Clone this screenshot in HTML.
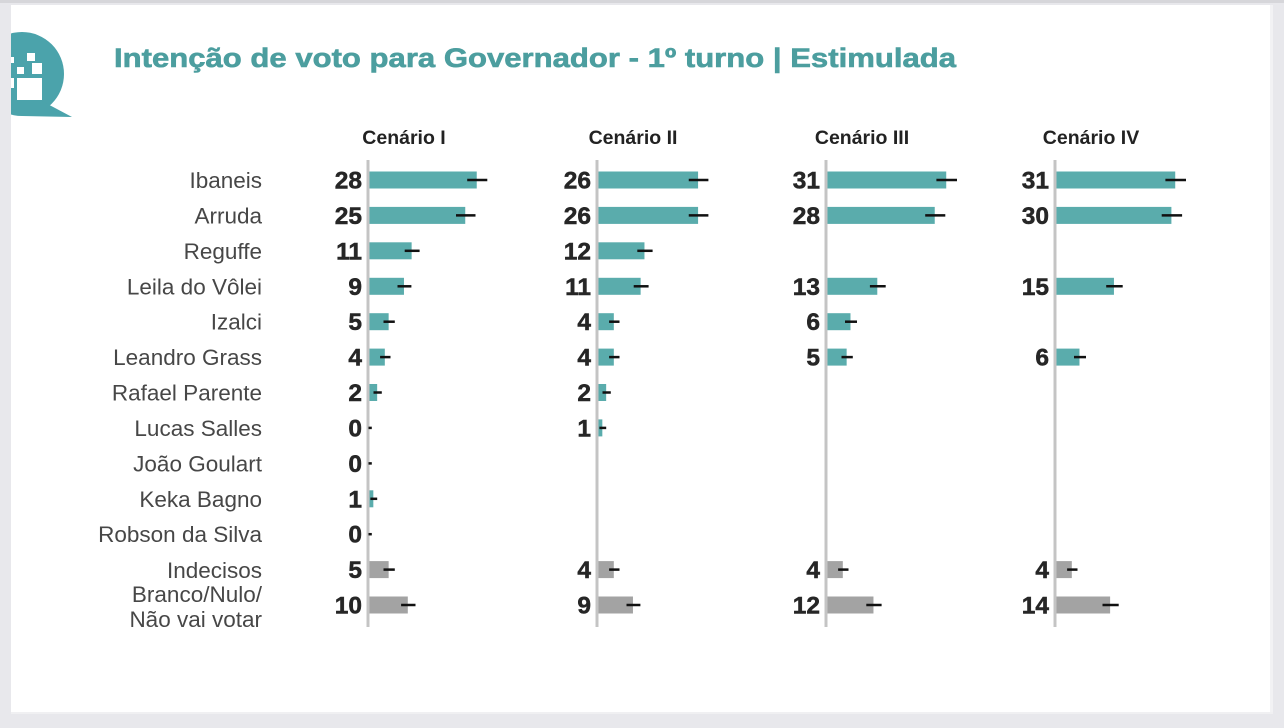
<!DOCTYPE html>
<html>
<head>
<meta charset="utf-8">
<style>
html,body{margin:0;padding:0;background:#e8e8ec;}
svg{display:block;}
</style>
</head>
<body>
<svg width="1284" height="728" viewBox="0 0 1284 728" xmlns="http://www.w3.org/2000/svg" font-family="'Liberation Sans', Arial, sans-serif">
  <rect x="0" y="0" width="1284" height="728" fill="#e8e8ec"/>
  <rect x="0" y="0" width="1284" height="3" fill="#d6d6da"/>
  <rect x="11" y="5" width="1259" height="707" fill="#ffffff"/>
  <rect x="1270" y="5" width="3" height="707" fill="#f2f2f4"/>
  <rect x="11" y="712" width="1262" height="2" fill="#f0f0f2"/>

  <!-- logo -->
  <defs><clipPath id="lc"><rect x="11" y="0" width="100" height="140"/></clipPath></defs>
  <g clip-path="url(#lc)" fill="#4ba3ab">
    <circle cx="22" cy="74" r="42"/>
    <polygon points="40,100 72,117 22,116"/>
  </g>
  <g fill="#ffffff">
    <rect x="27" y="53" width="8" height="8"/>
    <rect x="32" y="63" width="10" height="11"/>
    <rect x="17" y="67" width="7" height="7"/>
    <rect x="17" y="78" width="25" height="22"/>
    <rect x="11" y="57" width="3" height="6"/>
    <rect x="11" y="78" width="3" height="10"/>
  </g>

  <!-- title -->
  <text x="114" y="67" font-size="27" font-weight="bold" fill="#4c9e9f" stroke="#4c9e9f" stroke-width="0.6" textLength="842" lengthAdjust="spacingAndGlyphs">Intenção de voto para Governador - 1º turno | Estimulada</text>

  <!-- headers -->
  <g font-size="19.5" font-weight="bold" fill="#222" text-anchor="middle">
    <text x="404" y="144">Cenário I</text>
    <text x="633" y="144">Cenário II</text>
    <text x="862" y="144">Cenário III</text>
    <text x="1091" y="144">Cenário IV</text>
  </g>

  <!-- row labels -->
  <g font-size="22.5" fill="#474747" text-anchor="end">
    <text x="262" y="188">Ibaneis</text>
    <text x="262" y="223.4">Arruda</text>
    <text x="262" y="258.8">Reguffe</text>
    <text x="262" y="294.3">Leila do Vôlei</text>
    <text x="262" y="329.7">Izalci</text>
    <text x="262" y="365.1">Leandro Grass</text>
    <text x="262" y="400.5">Rafael Parente</text>
    <text x="262" y="435.9">Lucas Salles</text>
    <text x="262" y="471.4">João Goulart</text>
    <text x="262" y="506.8">Keka Bagno</text>
    <text x="262" y="542.2">Robson da Silva</text>
    <text x="262" y="578">Indecisos</text>
    <text x="262" y="602">Branco/Nulo/</text>
    <text x="262" y="627">Não vai votar</text>
  </g>

  <!-- axes -->
  <g stroke="#c4c4c4" stroke-width="3">
    <line x1="368" y1="160" x2="368" y2="627"/>
    <line x1="597" y1="160" x2="597" y2="627"/>
    <line x1="826" y1="160" x2="826" y2="627"/>
    <line x1="1055" y1="160" x2="1055" y2="627"/>
  </g>

  <!-- bars teal -->
  <g fill="#5aacac">
    <rect x="369.5" y="171.5" width="107.24" height="17"/>
    <rect x="369.5" y="206.9" width="95.75" height="17"/>
    <rect x="369.5" y="242.3" width="42.13" height="17"/>
    <rect x="369.5" y="277.8" width="34.47" height="17"/>
    <rect x="369.5" y="313.2" width="19.15" height="17"/>
    <rect x="369.5" y="348.6" width="15.32" height="17"/>
    <rect x="369.5" y="384.0" width="7.66" height="17"/>
    <rect x="369.5" y="490.3" width="3.83" height="17"/>
    <rect x="598.5" y="171.5" width="99.58" height="17"/>
    <rect x="598.5" y="206.9" width="99.58" height="17"/>
    <rect x="598.5" y="242.3" width="45.96" height="17"/>
    <rect x="598.5" y="277.8" width="42.13" height="17"/>
    <rect x="598.5" y="313.2" width="15.32" height="17"/>
    <rect x="598.5" y="348.6" width="15.32" height="17"/>
    <rect x="598.5" y="384.0" width="7.66" height="17"/>
    <rect x="598.5" y="419.4" width="3.83" height="17"/>
    <rect x="827.5" y="171.5" width="118.73" height="17"/>
    <rect x="827.5" y="206.9" width="107.24" height="17"/>
    <rect x="827.5" y="277.8" width="49.79" height="17"/>
    <rect x="827.5" y="313.2" width="22.98" height="17"/>
    <rect x="827.5" y="348.6" width="19.15" height="17"/>
    <rect x="1056.5" y="171.5" width="118.73" height="17"/>
    <rect x="1056.5" y="206.9" width="114.9" height="17"/>
    <rect x="1056.5" y="277.8" width="57.45" height="17"/>
    <rect x="1056.5" y="348.6" width="22.98" height="17"/>
  </g>

  <!-- bars gray -->
  <g fill="#a3a3a3">
    <rect x="369.5" y="561.1" width="19.15" height="17"/>
    <rect x="369.5" y="596.5" width="38.3" height="17"/>
    <rect x="598.5" y="561.1" width="15.32" height="17"/>
    <rect x="598.5" y="596.5" width="34.47" height="17"/>
    <rect x="827.5" y="561.1" width="15.32" height="17"/>
    <rect x="827.5" y="596.5" width="45.96" height="17"/>
    <rect x="1056.5" y="561.1" width="15.32" height="17"/>
    <rect x="1056.5" y="596.5" width="53.62" height="17"/>
  </g>

  <!-- error bars -->
  <g stroke="#111" stroke-width="2.5">
    <line x1="467.2" y1="180" x2="487.3" y2="180"/>
    <line x1="456.0" y1="215.4" x2="475.5" y2="215.4"/>
    <line x1="404.7" y1="250.8" x2="419.6" y2="250.8"/>
    <line x1="397.5" y1="286.3" x2="411.4" y2="286.3"/>
    <line x1="383.5" y1="321.7" x2="394.8" y2="321.7"/>
    <line x1="380.1" y1="357.1" x2="390.5" y2="357.1"/>
    <line x1="373.5" y1="392.5" x2="381.8" y2="392.5"/>
    <line x1="368.5" y1="427.9" x2="371.8" y2="427.9"/>
    <line x1="368.5" y1="463.4" x2="371.8" y2="463.4"/>
    <line x1="370.4" y1="498.8" x2="377.2" y2="498.8"/>
    <line x1="368.5" y1="534.2" x2="371.8" y2="534.2"/>
    <line x1="383.5" y1="569.6" x2="394.8" y2="569.6"/>
    <line x1="401.1" y1="605" x2="415.5" y2="605"/>

    <line x1="688.75" y1="180" x2="708.4" y2="180"/>
    <line x1="688.75" y1="215.4" x2="708.4" y2="215.4"/>
    <line x1="637.3" y1="250.8" x2="652.6" y2="250.8"/>
    <line x1="633.7" y1="286.3" x2="648.6" y2="286.3"/>
    <line x1="609.1" y1="321.7" x2="619.5" y2="321.7"/>
    <line x1="609.1" y1="357.1" x2="619.5" y2="357.1"/>
    <line x1="602.5" y1="392.5" x2="610.8" y2="392.5"/>
    <line x1="599.4" y1="427.9" x2="606.2" y2="427.9"/>
    <line x1="609.1" y1="569.6" x2="619.5" y2="569.6"/>
    <line x1="626.5" y1="605" x2="640.4" y2="605"/>

    <line x1="936.4" y1="180" x2="957.0" y2="180"/>
    <line x1="925.2" y1="215.4" x2="945.3" y2="215.4"/>
    <line x1="869.9" y1="286.3" x2="885.7" y2="286.3"/>
    <line x1="845.0" y1="321.7" x2="857.0" y2="321.7"/>
    <line x1="841.5" y1="357.1" x2="852.8" y2="357.1"/>
    <line x1="838.1" y1="569.6" x2="848.5" y2="569.6"/>
    <line x1="866.3" y1="605" x2="881.6" y2="605"/>

    <line x1="1165.4" y1="180" x2="1186.0" y2="180"/>
    <line x1="1161.7" y1="215.4" x2="1182.1" y2="215.4"/>
    <line x1="1106.2" y1="286.3" x2="1122.7" y2="286.3"/>
    <line x1="1074.0" y1="357.1" x2="1086.0" y2="357.1"/>
    <line x1="1067.1" y1="569.6" x2="1077.5" y2="569.6"/>
    <line x1="1102.5" y1="605" x2="1118.7" y2="605"/>
  </g>

  <!-- values -->
  <g font-size="24.5" font-weight="bold" fill="#262626" stroke="#262626" stroke-width="0.5" text-anchor="end">
    <text x="362" y="188.5">28</text>
    <text x="362" y="223.9">25</text>
    <text x="362" y="259.3">11</text>
    <text x="362" y="294.8">9</text>
    <text x="362" y="330.2">5</text>
    <text x="362" y="365.6">4</text>
    <text x="362" y="401">2</text>
    <text x="362" y="436.4">0</text>
    <text x="362" y="471.9">0</text>
    <text x="362" y="507.3">1</text>
    <text x="362" y="542.7">0</text>
    <text x="362" y="578.1">5</text>
    <text x="362" y="613.5">10</text>

    <text x="591" y="188.5">26</text>
    <text x="591" y="223.9">26</text>
    <text x="591" y="259.3">12</text>
    <text x="591" y="294.8">11</text>
    <text x="591" y="330.2">4</text>
    <text x="591" y="365.6">4</text>
    <text x="591" y="401">2</text>
    <text x="591" y="436.4">1</text>
    <text x="591" y="578.1">4</text>
    <text x="591" y="613.5">9</text>

    <text x="820" y="188.5">31</text>
    <text x="820" y="223.9">28</text>
    <text x="820" y="294.8">13</text>
    <text x="820" y="330.2">6</text>
    <text x="820" y="365.6">5</text>
    <text x="820" y="578.1">4</text>
    <text x="820" y="613.5">12</text>

    <text x="1049" y="188.5">31</text>
    <text x="1049" y="223.9">30</text>
    <text x="1049" y="294.8">15</text>
    <text x="1049" y="365.6">6</text>
    <text x="1049" y="578.1">4</text>
    <text x="1049" y="613.5">14</text>
  </g>
</svg>
</body>
</html>
